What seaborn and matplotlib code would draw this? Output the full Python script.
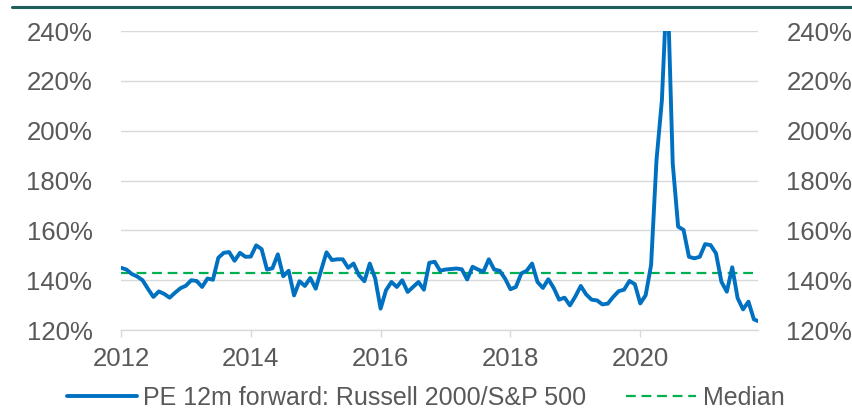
import numpy as np
import pandas as pd
import seaborn as sns
import matplotlib.pyplot as plt
from matplotlib.lines import Line2D

# monthly PE ratio (%), Jan 2012 onwards
pe_ratio = [
    145, 144.3, 142.5, 141.5, 140, 136.5, 133.3, 135.5, 134.5, 133, 135, 136.8,
    137.8, 140, 139.7, 137.3, 140.7, 140.2, 149, 151, 151.3, 147.8, 151, 149.4,
    149.5, 154, 152.5, 144.3, 144.8, 150.4, 141.6, 143.8, 133.9, 139.6, 137.7, 140.9,
    136.6, 144, 151.2, 148.1, 148.4, 148.4, 145, 146.7, 142, 139.6, 146.7, 140.7,
    128.6, 136, 139.3, 137.3, 140, 135.3, 137.3, 139.3, 136.2, 147, 147.4, 143.8,
    144.3, 144.5, 144.7, 144.4, 140.3, 145.4, 144.3, 143.4, 148.4, 144.3, 143.8, 140.7,
    136.4, 137.3, 142.7, 143.8, 146.7, 139.3, 136.9, 140.4, 136.9, 132.2, 133, 129.9,
    133.5, 137.7, 134.3, 132.2, 131.9, 130.3, 130.6, 133.3, 135.6, 136.2, 139.7, 138.4,
    130.7, 134, 146.1, 188.2, 212.3, 262, 186.9, 161.5, 160.2, 149.4, 148.8, 149.4,
    154.5, 154.1, 150.8, 139.4, 135.4, 145.2, 132.8, 128.3, 131.4, 124.3, 123.4,
]
median_value = 143.1
year_ticks = [2012, 2014, 2016, 2018, 2020]
y_ticks = [120, 140, 160, 180, 200, 220, 240]

df = pd.DataFrame({
    "year": 2012 + np.arange(len(pe_ratio)) / 12,
    "pe": pe_ratio,
})

sns.set_style("white")
plt.rcParams['font.family'] = ['Liberation Sans', 'DejaVu Sans']

fig = plt.figure(figsize=(8.53, 4.09), dpi=100)
ax = fig.add_axes([0.1418, 0.193, 0.8886 - 0.1418, 0.924 - 0.193])

ax.set_ylim(120, 240)
ax.set_xlim(2012, df["year"].iloc[-1] - 0.02)
ax.set_yticks(y_ticks)
ax.set_yticklabels([f"{v}%" for v in y_ticks])
ax.set_xticks(year_ticks)
ax.set_xticklabels([str(y) for y in year_ticks])

ax.grid(axis='y', color='#d9d9d9', linewidth=1.0)
ax.set_axisbelow(True)
for side in ['top', 'right', 'left']:
    ax.spines[side].set_visible(False)
ax.spines['bottom'].set_color('#d9d9d9')
ax.spines['bottom'].set_linewidth(1.0)

ax.axhline(median_value, color='#00B050', linestyle=(0, (4.4, 2.6)), linewidth=1.6,
           label='Median', zorder=2)
sns.lineplot(data=df, x="year", y="pe", ax=ax, color='#0070C0', linewidth=2.8,
             label='PE 12m forward: Russell 2000/S&P 500', zorder=3)

ax.set_xlabel('')
ax.set_ylabel('')
ax.tick_params(axis='y', left=False, right=False, labelleft=True, labelright=True,
               labelsize=18.5, labelcolor='#595959', pad=17)
ax.tick_params(axis='x', bottom=True, length=5, width=1, color='#d9d9d9',
               labelsize=18.5, labelcolor='#595959', pad=7.5)

handles, labels = ax.get_legend_handles_labels()
order = [labels.index('PE 12m forward: Russell 2000/S&P 500'), labels.index('Median')]
ax.legend([handles[i] for i in order], [labels[i] for i in order],
          loc='center', bbox_to_anchor=(0.499, 0.027), bbox_transform=fig.transFigure,
          ncol=2, frameon=False, fontsize=18, labelcolor='#595959',
          handlelength=2.8, handletextpad=0.25, columnspacing=1.6)

# dark teal rule across the top
fig.add_artist(Line2D([12 / 853, 1.0], [1 - 7 / 409, 1 - 7 / 409],
                      transform=fig.transFigure, color='#1f5f5b', linewidth=2.2))

fig.savefig('out.png', dpi=100)
